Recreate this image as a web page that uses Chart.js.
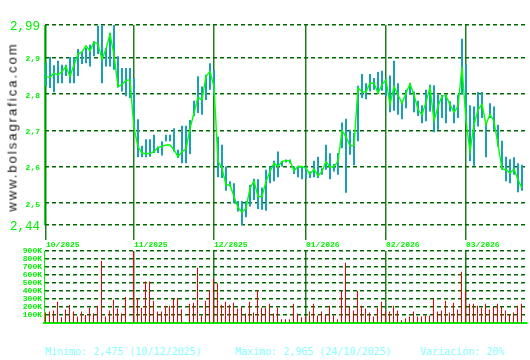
<!DOCTYPE html>
<html>
<head>
<meta charset="utf-8">
<script src="https://cdn.jsdelivr.net/npm/chart.js@4.4.1/dist/chart.umd.min.js"></script>
<style>
  html, body { margin: 0; padding: 0; background: #fff; }
  #wrap { position: relative; width: 530px; height: 360px; overflow: hidden; }
  canvas { position: absolute; left: 0; }
  #priceChart { top: 0; }
  #volChart { top: 236px; }
  .wm { position: absolute; left: 12px; top: 127px; transform: translate(-50%, -50%) rotate(-90deg);
        font: 13px "Liberation Sans"; letter-spacing: 2px; color: #111; white-space: nowrap; }
  .stat { position: absolute; top: 347px; font: 10px "DejaVu Sans Mono"; line-height: 10px;
          color: #88ffff; white-space: pre; }
</style>
</head>
<body>
<div id="wrap">
  <canvas id="priceChart" width="530" height="250"></canvas>
  <canvas id="volChart" width="530" height="94"></canvas>
  <div class="wm">www.bolsagrafica.com</div>
  <div class="stat" style="left:45px">Minimo: 2,475 (10/12/2025)</div>
  <div class="stat" style="left:235px">Maximo: 2,965 (24/10/2025)</div>
  <div class="stat" style="left:420px">Variación: 20%</div>
</div>
<script>
// ── daily data, one entry per session (Oct 2025 → Mar 2026) ──
const monthLabels = ['10/2025', '11/2025', '12/2025', '01/2026', '02/2026', '03/2026'];
const monthIdx    = [0, 22, 42, 65, 85, 105];   // session index where each month starts

const priceTicks      = [2.44, 2.5, 2.6, 2.7, 2.8, 2.9, 2.99];
const priceTickLabels = ['2,44', '2,5', '2,6', '2,7', '2,8', '2,9', '2,99'];
const volTicks        = [0, 100, 200, 300, 400, 500, 600, 700, 800, 900];
const volTickLabels   = ['', '100K', '200K', '300K', '400K', '500K', '600K', '700K', '800K', '900K'];

const close = [
  2.848,2.846,2.857,2.853,2.862,2.876,2.848,2.881,2.910,2.916,
  2.933,2.919,2.943,2.938,2.896,2.924,2.965,2.908,2.821,2.826,
  2.838,2.839,2.706,2.656,2.638,2.636,2.637,2.642,2.653,2.656,
  2.660,2.660,2.647,2.628,2.642,2.649,2.706,2.748,2.791,2.784,
  2.849,2.862,2.821,2.615,2.596,2.550,2.550,2.518,2.488,2.475,
  2.486,2.541,2.561,2.518,2.518,2.560,2.587,2.610,2.601,2.615,
  2.617,2.617,2.589,2.601,2.601,2.596,2.580,2.594,2.575,2.587,
  2.615,2.599,2.601,2.615,2.699,2.683,2.658,2.659,2.817,2.806,
  2.806,2.830,2.830,2.803,2.826,2.839,2.771,2.821,2.798,2.775,
  2.803,2.828,2.798,2.757,2.743,2.778,2.818,2.727,2.766,2.795,
  2.795,2.771,2.750,2.766,2.876,2.727,2.642,2.716,2.757,2.772,
  2.716,2.745,2.725,2.661,2.594,2.592,2.583,2.594,2.564,2.541
];
const high = [
  2.887,2.902,2.879,2.892,2.881,2.881,2.902,2.902,2.924,2.916,
  2.927,2.936,2.945,2.988,2.991,2.927,2.968,2.991,2.904,2.872,
  2.872,2.872,2.844,2.731,2.658,2.676,2.676,2.688,2.656,2.670,
  2.688,2.688,2.706,2.647,2.713,2.713,2.729,2.782,2.849,2.821,
  2.853,2.885,2.867,2.683,2.661,2.601,2.560,2.555,2.506,2.506,
  2.505,2.550,2.567,2.566,2.543,2.592,2.601,2.617,2.642,2.615,
  2.620,2.620,2.601,2.603,2.601,2.601,2.587,2.617,2.628,2.596,
  2.661,2.637,2.608,2.638,2.722,2.732,2.702,2.693,2.823,2.855,
  2.830,2.855,2.844,2.861,2.864,2.841,2.851,2.892,2.830,2.782,
  2.812,2.830,2.807,2.782,2.769,2.812,2.826,2.824,2.798,2.798,
  2.798,2.780,2.771,2.798,2.952,2.883,2.769,2.766,2.806,2.806,
  2.720,2.775,2.766,2.716,2.672,2.628,2.621,2.626,2.610,2.606
];
const low = [
  2.821,2.817,2.805,2.830,2.830,2.850,2.830,2.830,2.850,2.883,
  2.885,2.876,2.904,2.910,2.830,2.876,2.876,2.867,2.818,2.807,
  2.794,2.789,2.706,2.626,2.626,2.626,2.628,2.638,2.638,2.631,
  2.670,2.670,2.642,2.624,2.610,2.610,2.635,2.739,2.748,2.743,
  2.784,2.812,2.798,2.571,2.569,2.534,2.546,2.500,2.477,2.440,
  2.461,2.491,2.509,2.484,2.482,2.479,2.555,2.560,2.571,2.601,
  2.612,2.610,2.580,2.571,2.566,2.567,2.569,2.571,2.569,2.578,
  2.592,2.566,2.587,2.578,2.651,2.529,2.633,2.604,2.670,2.789,
  2.786,2.807,2.812,2.800,2.809,2.794,2.750,2.754,2.743,2.731,
  2.761,2.798,2.750,2.740,2.720,2.725,2.752,2.695,2.702,2.734,
  2.720,2.752,2.720,2.734,2.798,2.725,2.615,2.603,2.711,2.734,
  2.626,2.734,2.702,2.656,2.592,2.560,2.555,2.578,2.530,2.534
];
// volume, thousands of shares
const volume = [
  133,145,158,267,73,170,226,145,85,145,
  101,194,121,218,776,85,158,291,182,121,
  327,4,909,315,194,521,521,279,145,145,
  218,218,303,315,170,4,242,255,691,97,
  279,412,553,497,230,267,230,255,182,206,
  121,267,133,412,194,194,242,121,194,48,
  48,48,242,121,73,85,145,242,97,145,
  109,218,97,48,404,752,206,158,404,218,
  182,133,85,194,267,150,145,218,158,36,
  61,85,145,85,85,97,97,303,145,158,
  279,133,255,170,642,404,242,242,218,194,
  242,170,206,242,206,158,109,133,218,242
];

const GREEN = '#00ee00';
const GRID  = '#006a00';
const MONTH = '#1e7d1e';
const smallFont = { family: '"Liberation Mono", "DejaVu Sans Mono", monospace', size: 8, weight: 'bold' };
const bigFont   = { family: '"Liberation Mono", "DejaVu Sans Mono", monospace', size: 12.5, weight: 'normal' };
// 4px per session; price range puts session 0 at x=46, volume at x=45.5 so
// 2px and 1px bars both land on whole pixels
const PX_MIN = -0.5,   PX_MAX = 120.25;
const VX_MIN = -0.375, VX_MAX = 120.375;

const monthTicks = s => { s.ticks = monthIdx.map(v => ({ value: v })); };

new Chart(document.getElementById('priceChart'), {
  type: 'bar',
  data: {
    datasets: [
      {
        type: 'line',
        data: close.map((v, i) => ({ x: i, y: v })),
        borderColor: '#00ff00',
        borderWidth: 1.4,
        pointRadius: 0,
        tension: 0,
        order: 0,
      },
      {
        type: 'bar',
        data: low.map((v, i) => ({ x: i, y: [v, high[i]] })),
        backgroundColor: '#1aa0b4',
        barThickness: 2,
        inflateAmount: 0,
        order: 1,
      }
    ]
  },
  options: {
    responsive: false, animation: false, devicePixelRatio: 1,
    layout: { padding: { top: 25, right: 3, left: 0, bottom: 0 } },
    plugins: { legend: { display: false }, tooltip: { enabled: false } },
    scales: {
      x: {
        type: 'linear', min: PX_MIN, max: PX_MAX, offset: false,
        afterBuildTicks: monthTicks,
        afterFit: s => { s.height = 25; },
        grid: { offset: false, color: MONTH, lineWidth: 1.5, drawTicks: true, tickLength: 15, tickColor: MONTH, tickWidth: 1.5 },
        border: { display: false },
        ticks: {
          autoSkip: false, maxRotation: 0, align: 'start', padding: 0,
          color: GREEN, font: smallFont,
          callback: v => monthLabels[monthIdx.indexOf(v)]
        }
      },
      y: {
        min: 2.44, max: 2.99,
        afterBuildTicks: s => { s.ticks = priceTicks.map(v => ({ value: v })); },
        afterFit: s => { s.width = 44; },
        grid: { color: GRID, lineWidth: 1.5, drawTicks: false },
        border: { display: true, color: GREEN, width: 1, dash: [4, 3] },
        ticks: {
          autoSkip: false, padding: 4, labelOffset: 1.5, color: GREEN,
          font: c => (c.index === 0 || c.index === priceTicks.length - 1) ? bigFont : smallFont,
          callback: (v, i) => priceTickLabels[i]
        }
      }
    }
  }
});

new Chart(document.getElementById('volChart'), {
  type: 'bar',
  data: {
    datasets: [{
      data: volume.map((v, i) => ({ x: i, y: v })),
      backgroundColor: '#ee0000',
      barThickness: 1,
      inflateAmount: 0,
    }]
  },
  options: {
    responsive: false, animation: false, devicePixelRatio: 1,
    layout: { padding: { top: 15, right: 3, left: 0, bottom: 0 } },
    plugins: { legend: { display: false }, tooltip: { enabled: false } },
    scales: {
      x: {
        type: 'linear', min: VX_MIN, max: VX_MAX, offset: false,
        afterBuildTicks: monthTicks,
        afterFit: s => { s.height = 5; },
        grid: { offset: false, color: c => c.index === 0 ? 'rgba(0,0,0,0)' : MONTH, lineWidth: 1.5, drawTicks: false },
        border: { display: true, color: GREEN, width: 2 },
        ticks: { display: false }
      },
      y: {
        min: 0, max: 900,
        afterBuildTicks: s => { s.ticks = volTicks.map(v => ({ value: v })); },
        afterFit: s => { s.width = 44; },
        grid: { color: GRID, lineWidth: 1.5, drawTicks: false },
        border: { display: true, color: GREEN, width: 1, dash: [4, 3] },
        ticks: {
          autoSkip: false, padding: 2, color: GREEN, font: smallFont,
          callback: (v, i) => volTickLabels[i]
        }
      }
    }
  }
});
</script>
</body>
</html>
